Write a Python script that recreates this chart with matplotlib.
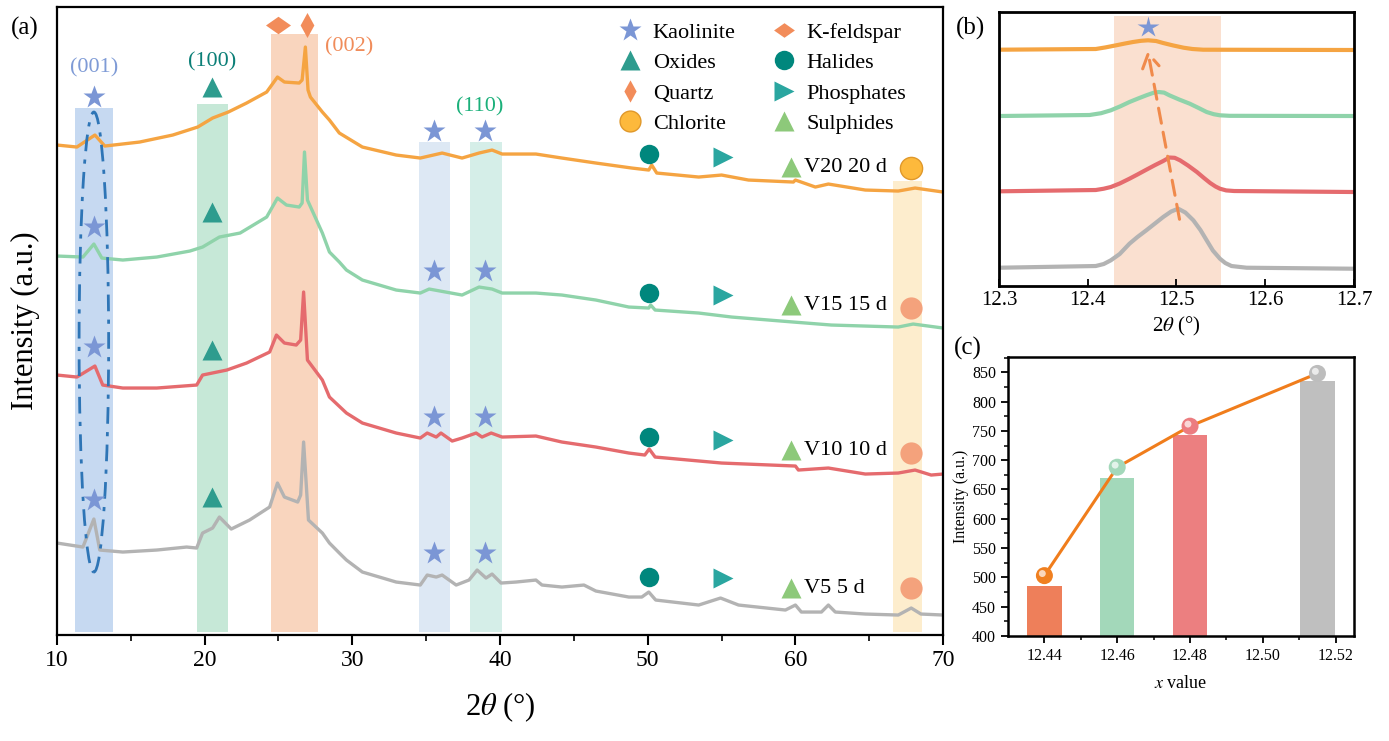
import matplotlib.pyplot as plt
from matplotlib.patches import Ellipse
from matplotlib.lines import Line2D
import matplotlib.transforms as mtransforms

plt.rcParams['font.family'] = ['Liberation Serif', 'DejaVu Serif']
plt.rcParams['mathtext.fontset'] = 'stix'

# ---- panel (a): XRD patterns (2theta, intensity a.u.) ----
v20_x = [10.0, 11.35, 12.57, 13.24, 15.6, 17.84, 19.53, 20.54, 21.6, 22.84, 24.2, 24.93, 25.4,
         26.4, 26.6, 26.82, 27.0, 27.16, 27.97, 28.45, 29.12, 30.68, 32.97, 34.6, 36.08, 37.43,
         38.58, 39.46, 40.14, 42.43, 44.19, 46.49, 48.92, 50.07, 50.27, 50.61, 53.45, 55.0,
         56.82, 59.86, 60.0, 61.35, 62.23, 64.73, 66.96, 68.1, 70.0]
v20_y = [490, 488, 500, 489, 493, 500, 508, 517, 523, 532, 543, 558, 553,
         552, 555, 588, 545, 538, 523, 515, 502, 488, 480, 477, 482, 477,
         482, 485, 481, 481, 477, 472, 467, 465, 470, 462, 458, 460,
         455, 453, 455, 448, 451, 445, 444, 447, 443]

v15_x = [10.0, 11.76, 12.5, 13.04, 14.46, 16.76, 19.0, 19.86, 21.0, 22.4, 24.2, 24.93, 25.54,
         26.4, 26.6, 26.76, 26.96, 27.97, 28.45, 29.12, 29.6, 30.68, 32.97, 34.6, 35.2, 37.43,
         38.58, 39.46, 40.14, 42.43, 44.19, 46.49, 48.72, 50.07, 50.2, 50.5, 53.45, 55.68,
         59.86, 62.43, 66.96, 67.97, 70.0]
v15_y = [379, 378, 391, 377, 375, 378, 384, 388, 398, 402, 418, 437, 430,
         428, 432, 483, 435, 402, 383, 373, 365, 355, 345, 342, 346, 340,
         348, 346, 342, 342, 340, 335, 328, 327, 330, 325, 322, 318,
         313, 310, 308, 311, 307]

v10_x = [10.0, 11.35, 12.57, 13.1, 14.46, 16.76, 19.46, 19.86, 21.5, 22.84, 24.4, 24.86, 25.4,
         26.2, 26.5, 26.7, 26.96, 27.97, 28.45, 29.6, 30.68, 32.97, 34.6, 35.07, 35.68, 36.0,
         36.76, 37.43, 38.38, 38.78, 39.4, 40.14, 42.43, 44.19, 46.49, 48.72, 49.8, 50.1,
         50.5, 55.0, 60.0, 60.2, 62.23, 64.73, 66.96, 68.1, 69.19, 70.0]
v10_y = [260, 258, 269, 250, 247, 247, 250, 260, 265, 272, 283, 300, 292,
         290, 295, 343, 275, 255, 238, 222, 212, 202, 197, 202, 198, 202,
         194, 197, 202, 198, 202, 198, 199, 193, 188, 182, 180, 186,
         178, 172, 169, 165, 167, 161, 162, 165, 160, 161]

v5_x = [10.0, 11.76, 12.5, 12.9, 14.46, 16.76, 18.78, 19.46, 19.86, 20.54, 21.0, 21.8, 23.04,
        24.4, 24.93, 25.4, 26.3, 26.5, 26.7, 27.03, 27.97, 28.45, 29.12, 29.6, 30.68, 32.97,
        34.6, 35.07, 35.68, 36.08, 37.03, 37.9, 38.45, 39.05, 39.46, 40.07, 41.08, 42.43,
        42.84, 44.19, 45.68, 46.49, 48.72, 49.6, 50.07, 50.54, 53.45, 54.93, 56.15, 59.32,
        60.0, 60.4, 61.76, 62.23, 62.7, 64.73, 66.96, 67.84, 68.5, 70.0]
v5_y = [92, 88, 116, 85, 83, 85, 88, 87, 102, 107, 118, 106, 115,
        128, 152, 138, 133, 140, 193, 115, 102, 92, 82, 75, 63, 53,
        50, 60, 58, 60, 50, 55, 65, 57, 61, 52, 53, 55,
        50, 48, 50, 44, 38, 38, 43, 35, 30, 37, 30, 25,
        30, 23, 23, 30, 23, 21, 20, 27, 21, 20]

sample_labels = ['V20 20 d', 'V15 15 d', 'V10 10 d', 'V5 5 d']
sample_colors = ['#F5A442', '#8FD3AA', '#E56B6E', '#B3B3B3']

# phase marker heights for each sample (same order as labels)
kaol_001_y = [538, 408, 288, 135]
kaol_hi_y = [504, 364, 218, 82]
oxide_y = [548, 423, 285, 138]
halide_y = [481, 342, 198, 58]
phosph_y = [478, 340, 195, 57]
sulph_y = [468, 330, 185, 47]
chlor_y = [467, 327, 182, 47]

# shaded peak regions: (start, end, top)
bands_a = [(11.2, 13.8, 527, '#C6D9F1'), (19.5, 21.6, 531, '#C6E8D7'),
           (24.5, 27.7, 601, '#F9D5BE'), (34.5, 36.6, 493, '#DDE8F4'),
           (37.95, 40.1, 493, '#D5EEE8'), (66.6, 68.6, 454, '#FDEDCD')]

# ---- panel (b): zoom of the (001) peak ----
b_gray_x = [12.3, 12.409, 12.418, 12.426, 12.436, 12.447, 12.456, 12.466, 12.475, 12.485, 12.494,
            12.502, 12.51, 12.519, 12.527, 12.534, 12.541, 12.549, 12.555, 12.562, 12.579, 12.7]
b_gray_y = [18.3, 20.0, 22.0, 25.7, 32.0, 42.3, 49.0, 55.7, 62.0, 69, 74.5,
            77.3, 73.5, 65.7, 56.0, 45.7, 35.5, 27.3, 23.0, 20.0, 18.3, 17.3]
b_red_x = [12.3, 12.409, 12.418, 12.426, 12.436, 12.447, 12.456, 12.466, 12.476, 12.485, 12.492,
           12.498, 12.504, 12.513, 12.523, 12.531, 12.538, 12.544, 12.549, 12.556, 12.565, 12.7]
b_red_y = [94.7, 96.0, 97.3, 99, 102.5, 107.3, 111.5, 116.3, 121, 125, 128.5,
           128.2, 125.7, 120.5, 114, 108, 103, 99.5, 97.3, 95.6, 95, 94]
b_green_x = [12.3, 12.402, 12.415, 12.426, 12.437, 12.447, 12.457, 12.466, 12.474, 12.48, 12.486,
             12.492, 12.503, 12.515, 12.525, 12.534, 12.542, 12.549, 12.56, 12.7]
b_green_y = [170, 171.0, 172.8, 175.7, 179.8, 184, 187.6, 190.7, 193.2, 194, 193.4,
             190.7, 186.5, 182.3, 178, 174, 171.8, 170.7, 170.2, 170]
b_orange_x = [12.3, 12.409, 12.42, 12.432, 12.442, 12.451, 12.46, 12.468, 12.477, 12.485, 12.496,
              12.508, 12.518, 12.53, 12.7]
b_orange_y = [236.3, 237.0, 238.6, 240.7, 242.5, 244, 245.2, 245.7, 245, 243, 240.6,
              238.3, 237, 236.3, 236]

# ---- panel (c): peak position vs intensity ----
c_x = [12.44, 12.46, 12.48, 12.515]
c_bar = [485, 670, 743, 835]
c_line = [503, 688, 758, 848]
c_colors = ['#EE7F5A', '#A3D8BA', '#EC7F80', '#BFBFBF']
c_ball = ['#F08020', '#A3D8BA', '#EC7C80', '#BDBDBD']

fig = plt.figure(figsize=(13.89, 7.41), dpi=100)
ax = fig.add_axes([0.041, 0.143, 0.638, 0.8475])
axb = fig.add_axes([0.7192, 0.614, 0.2556, 0.3698])
axc = fig.add_axes([0.7257, 0.1417, 0.249, 0.3765])

# ================= (a) =================
for x0, x1, top, col in bands_a:
    ax.fill_between([x0, x1], 3, top, color=col, lw=0, zorder=0)

curves = [(v20_x, v20_y), (v15_x, v15_y), (v10_x, v10_y), (v5_x, v5_y)]
for (xs, ys), col in zip(curves, sample_colors):
    ax.plot(xs, ys, color=col, lw=2.4, zorder=2)

ax.add_patch(Ellipse((12.5, 293), 2.0, 460, fill=False, ec='#2E75B6', lw=2,
                     ls=(0, (6, 3, 1.5, 3)), zorder=3))

star_c = '#7B96D5'
wide_dia = [(-1, 0), (0, 0.7), (1, 0), (0, -0.7), (-1, 0)]
thin_dia = [(-0.55, 0), (0, 1), (0.55, 0), (0, -1), (-0.55, 0)]
for i in range(4):
    ax.plot(12.5, kaol_001_y[i], '*', color=star_c, ms=17, mec='none', zorder=4)
    ax.plot([35.5, 39.0], [kaol_hi_y[i]] * 2, '*', color=star_c, ms=17, mec='none', zorder=4)
    ax.plot(20.5, oxide_y[i], '^', color='#2E9C8E', ms=15, mec='none', zorder=4)
    ax.plot(50.1, halide_y[i], 'o', color='#00877D', ms=14, mec='none', zorder=4)
    ax.plot(55.1, phosph_y[i], '>', color='#2AA6A0', ms=15, mec='none', zorder=4)
    ax.plot(59.7, sulph_y[i], '^', color='#8DC97A', ms=15, mec='none', zorder=4)
    if i == 0:
        ax.plot(67.8, chlor_y[i], 'o', color='#FDB93C', mec='#E0982A', ms=16, zorder=4)
    else:
        ax.plot(67.8, chlor_y[i], 'o', color='#F4A27C', mec='none', ms=16, zorder=4)
    ax.text(60.6, sulph_y[i], sample_labels[i], fontsize=16, va='center', ha='left', zorder=5)

ax.plot(24.95, 610, marker=wide_dia, color='#F28C5A', ms=18, mec='none')
ax.plot(26.9, 610, marker=thin_dia, color='#F28C5A', ms=18, mec='none')

ax.text(12.5, 567, '(001)', color='#7F9BD6', fontsize=16, ha='center', va='center')
ax.text(20.5, 573, '(100)', color='#0B7F77', fontsize=16, ha='center', va='center')
ax.text(29.8, 588, '(002)', color='#F08C5A', fontsize=16, ha='center', va='center')
ax.text(38.6, 528, '(110)', color='#1BB07A', fontsize=16, ha='center', va='center')

handles = [
    Line2D([], [], ls='none', marker='*', color=star_c, ms=17, mec='none'),
    Line2D([], [], ls='none', marker='^', color='#2E9C8E', ms=15, mec='none'),
    Line2D([], [], ls='none', marker=thin_dia, color='#F28C5A', ms=16, mec='none'),
    Line2D([], [], ls='none', marker='o', color='#FDB93C', mec='#E0982A', ms=15),
    Line2D([], [], ls='none', marker=wide_dia, color='#F28C5A', ms=15, mec='none'),
    Line2D([], [], ls='none', marker='o', color='#00877D', ms=14, mec='none'),
    Line2D([], [], ls='none', marker='>', color='#2AA6A0', ms=15, mec='none'),
    Line2D([], [], ls='none', marker='^', color='#8DC97A', ms=15, mec='none'),
]
names = ['Kaolinite', 'Oxides', 'Quartz', 'Chlorite', 'K-feldspar', 'Halides', 'Phosphates', 'Sulphides']
ax.legend(handles, names, ncol=2, loc='upper left', bbox_to_anchor=(0.612, 1.008), frameon=False,
          fontsize=16, handlelength=1.0, handletextpad=0.5, labelspacing=0.45, columnspacing=1.7)

ax.set_xlim(10, 70)
ax.set_ylim(0, 628)
ax.set_xticks(range(10, 71, 10))
ax.set_xticks(range(15, 70, 10), minor=True)
ax.set_yticks([])
ax.tick_params(axis='x', which='major', labelsize=17, length=7, width=1.5, direction='out')
ax.tick_params(axis='x', which='minor', length=4, width=1.2, direction='out')
for s in ax.spines.values():
    s.set_linewidth(1.6)
ax.set_xlabel(r'2$\theta$ (°)', fontsize=22, labelpad=14)
ax.set_ylabel('Intensity (a.u.)', fontsize=22, labelpad=12)
fig.text(0.018, 0.962, '(a)', fontsize=18, va='center', ha='center')

# ================= (b) =================
axb.axvspan(12.43, 12.55, ymin=0, ymax=0.985, color='#FAE0D0', lw=0, zorder=0)
axb.plot(b_gray_x, b_gray_y, color='#B3B3B3', lw=3)
axb.plot(b_red_x, b_red_y, color='#E56B6E', lw=3)
axb.plot(b_green_x, b_green_y, color='#8FD3AA', lw=3)
axb.plot(b_orange_x, b_orange_y, color='#F5A442', lw=3)
axb.annotate('', xy=(12.467, 238), xytext=(12.504, 64),
             arrowprops=dict(arrowstyle='->,head_length=0.5,head_width=0.3', ls=(0, (5, 3)),
                             color='#F08A4B', lw=2.2, mutation_scale=20))
axb.plot(12.468, 259, '*', color=star_c, ms=16, mec='none')
axb.set_xlim(12.3, 12.7)
axb.set_ylim(0, 274)
axb.set_yticks([])
axb.set_xticks([12.3, 12.4, 12.5, 12.6, 12.7])
axb.tick_params(axis='x', labelsize=15, direction='in', length=5, width=1.3)
for s in axb.spines.values():
    s.set_linewidth(2)
axb.set_xlabel(r'2$\theta$ (°)', fontsize=15, labelpad=4)
fig.text(0.6985, 0.962, '(b)', fontsize=18, va='center', ha='center')

# ================= (c) =================
axc.bar(c_x, [h - 400 for h in c_bar], bottom=400, width=0.0094, color=c_colors, zorder=2)
axc.plot(c_x, c_line, color='#F07D1C', lw=2.2, zorder=3)
axc.scatter(c_x, c_line, s=150, c=c_ball, zorder=4, edgecolors='none')
hl = mtransforms.offset_copy(axc.transData, fig=fig, x=-1.5, y=1.5, units='points')
axc.scatter(c_x, c_line, s=25, c='white', alpha=0.7, zorder=5, edgecolors='none', transform=hl)
axc.set_xlim(12.43, 12.525)
axc.set_ylim(400, 876)
axc.set_xticks([12.44, 12.46, 12.48, 12.50, 12.52])
axc.set_xticklabels(['12.44', '12.46', '12.48', '12.50', '12.52'])
axc.set_xticks([12.45, 12.47, 12.49, 12.51], minor=True)
axc.set_yticks(range(400, 851, 50))
axc.set_yticks(range(425, 876, 50), minor=True)
axc.tick_params(axis='both', which='major', labelsize=11.5, length=5, width=1.3, direction='out')
axc.tick_params(axis='both', which='minor', length=3, width=1.1, direction='out')
for s in axc.spines.values():
    s.set_linewidth(1.8)
axc.set_xlabel(r'$x$ value', fontsize=13, labelpad=8)
axc.set_ylabel('Intensity (a.u.)', fontsize=11.5, labelpad=2)
fig.text(0.697, 0.530, '(c)', fontsize=18, va='center', ha='center')

plt.savefig('out.png', dpi=100)
